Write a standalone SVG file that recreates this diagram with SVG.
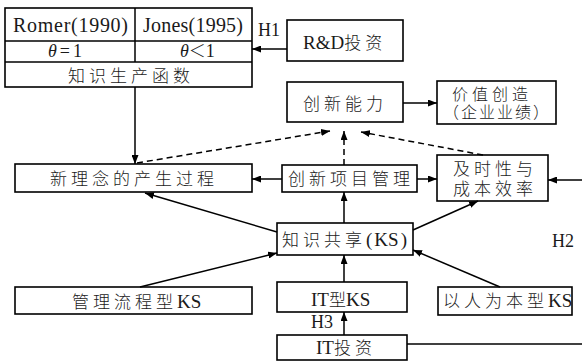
<svg xmlns="http://www.w3.org/2000/svg" width="582" height="361" viewBox="0 0 582 361">
<defs>
<marker id="ah" markerUnits="userSpaceOnUse" markerWidth="9" markerHeight="7" refX="9" refY="3.5" orient="auto"><path d="M0,0 L9,3.5 L0,7 z" fill="#000"/></marker>
<style>
.b{fill:#fff;stroke:#000;stroke-width:1.6}
.t{font-family:"Liberation Serif","Noto Sans CJK SC",serif;font-size:17px;font-weight:300;fill:#1a1a1a}
.k{letter-spacing:4px}
.la{font-size:19px}
.l{font-family:"Liberation Serif",serif;font-size:18px;fill:#1a1a1a}
.c{fill:none;stroke:#000;stroke-width:1.5;marker-end:url(#ah)}
.d{stroke-dasharray:6 4}
.n{fill:none;stroke:#000;stroke-width:1.5}
</style>
</defs>
<rect width="582" height="361" fill="#fff"/>
<g id="table">
<rect class="b" x="5" y="8" width="247" height="79"/>
<line class="n" x1="5" y1="41" x2="252" y2="41"/>
<line class="n" x1="5" y1="62" x2="252" y2="62"/>
<line class="n" x1="135" y1="8" x2="135" y2="62"/>
<text class="t" x="13" y="32" textLength="115" lengthAdjust="spacing" style="font-size:20px">Romer(1990)</text>
<text class="t" x="143" y="32" textLength="100" lengthAdjust="spacing" style="font-size:20px">Jones(1995)</text>
<text class="t" x="48" y="57" style="font-size:18px"><tspan font-style="italic">θ</tspan><tspan dx="3">=</tspan><tspan dx="3">1</tspan></text>
<text class="t" x="180" y="57" style="font-size:17px"><tspan font-style="italic" style="font-size:18px">θ</tspan>＜<tspan style="font-size:18px">1</tspan></text>
<text class="t k" x="68" y="82">知识生产函数</text>
</g>
<g id="rd">
<rect class="b" x="287" y="20" width="116" height="41"/>
<text class="t" x="303" y="49" style="font-size:19px">R&amp;D<tspan class="k" style="font-size:17px">投资</tspan></text>
</g>
<g id="cxnl">
<rect class="b" x="287" y="82" width="116" height="40"/>
<text class="t k" x="303" y="110">创新能力</text>
</g>
<g id="jzcz">
<rect class="b" x="437" y="81" width="119" height="43"/>
<text class="t" x="452" y="100" style="font-size:16px;letter-spacing:4px">价值创造</text>
<text class="t" x="443" y="118" style="font-size:16px;letter-spacing:2px">（企业业绩）</text>
</g>
<g id="xln">
<rect class="b" x="15" y="164" width="237" height="28"/>
<text class="t k" x="50" y="185">新理念的产生过程</text>
</g>
<g id="cxxm">
<rect class="b" x="282" y="165" width="135" height="27"/>
<text class="t k" x="288" y="185">创新项目管理</text>
</g>
<g id="jsx">
<rect class="b" x="437" y="155" width="111" height="46"/>
<text class="t k" x="453" y="175">及时性与</text>
<text class="t k" x="453" y="195">成本效率</text>
</g>
<g id="zsgx">
<rect class="b" x="277" y="223" width="136" height="32"/>
<text class="t" x="282" y="246"><tspan class="k">知识共享</tspan><tspan class="la" dx="0">(</tspan><tspan class="la" dx="2">KS</tspan><tspan class="la" dx="2">)</tspan></text>
</g>
<g id="glks">
<rect class="b" x="15" y="287" width="237" height="27"/>
<text class="t" x="72" y="308"><tspan class="k">管理流程型</tspan><tspan class="la">KS</tspan></text>
</g>
<g id="itks">
<rect class="b" x="277" y="282" width="130" height="30"/>
<text class="t" x="311" y="306" style="font-size:19px">IT<tspan style="font-size:17px">型</tspan>KS</text>
</g>
<g id="yrks">
<rect class="b" x="438" y="287" width="134" height="28"/>
<text class="t" x="443" y="307"><tspan class="k">以人为本型</tspan><tspan class="la">KS</tspan></text>
</g>
<g id="itinv">
<rect class="b" x="277" y="335" width="130" height="25"/>
<text class="t" x="316" y="354" style="font-size:19px">IT<tspan class="k" style="font-size:17px">投资</tspan></text>
</g>
<g id="labels">
<text class="l" x="258" y="36">H1</text>
<text class="l" x="552" y="247">H2</text>
<text class="l" x="311" y="328">H3</text>
</g>
<g id="connectors">
<path class="c" d="M135,87 L135,164"/>
<path class="c" d="M287,49 L252,49"/>
<path class="c" d="M403,103 L437,103"/>
<path class="c d" d="M137,163 L330,131"/>
<path class="c d" d="M344,165 L344,131"/>
<path class="c d" d="M483,155 L361,132"/>
<path class="c" d="M282,179 L252,179"/>
<path class="c" d="M417,179 L437,179"/>
<path class="c" d="M582,180 L548,180"/>
<path class="c" d="M344,223 L344,192"/>
<path class="c" d="M277,232 L145,193"/>
<path class="c" d="M413,230 L478,201"/>
<path class="c" d="M140,287 L277,253"/>
<path class="c" d="M344,282 L344,255"/>
<path class="c" d="M500,287 L413,250"/>
<path class="c" d="M344,335 L344,312"/>
<path class="n" d="M407,344 L582,344"/>
</g>
</svg>
